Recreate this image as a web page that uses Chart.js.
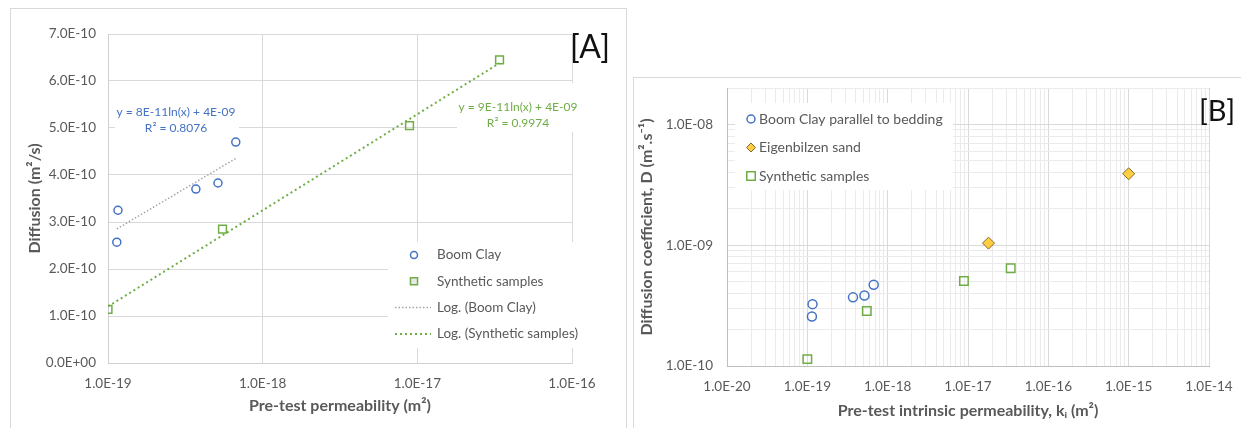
<!DOCTYPE html>
<html>
<head>
<meta charset="utf-8">
<script src="https://cdn.jsdelivr.net/npm/chart.js@4.4.1/dist/chart.umd.min.js"></script>
<style>
    body { margin: 0; background: #fff; width: 1241px; height: 428px; overflow: hidden; position: relative; }
    .frame { position: absolute; border: 1px solid #d9d9d9; box-sizing: border-box; }
    canvas { position: absolute; }
</style>
</head>
<body>
<div class="frame" style="left:10px;top:8px;width:617px;height:440px"></div>
<div class="frame" style="left:633px;top:77px;width:700px;height:400px"></div>
<canvas id="chartA" width="616" height="420" style="left:10px;top:8px"></canvas>
<canvas id="chartB" width="608" height="351" style="left:633px;top:77px"></canvas>
<script>
// Datos
const boomX = [1.16e-19, 1.14e-19, 3.7e-19, 5.14e-19, 6.7e-19];
const boomD = [3.25e-10, 2.57e-10, 3.70e-10, 3.83e-10, 4.70e-10];
const synthX = [1.0e-19, 5.5e-19, 8.9e-18, 3.4e-17];
const synthD = [1.14e-10, 2.85e-10, 5.05e-10, 6.45e-10];
const sandX = [1.8e-17, 1.0e-15];
const sandD = [1.04e-9, 3.9e-9];

// Ejes
const xTicksA = [1e-19, 1e-18, 1e-17, 1e-16];
const yTicksA = [0, 1e-10, 2e-10, 3e-10, 4e-10, 5e-10, 6e-10, 7e-10];
const xDecadesB = [1e-20, 1e-19, 1e-18, 1e-17, 1e-16, 1e-15, 1e-14];
const yDecadesB = [1e-10, 1e-9, 1e-8];
const yMaxB = 2e-8;

// Textos
const eqBoom = ["y = 8E-11ln(x) + 4E-09", "R\u00B2 = 0.8076"];
const eqSynth = ["y = 9E-11ln(x) + 4E-09", "R\u00B2 = 0.9974"];

const BLUE = "#4472C4", GREEN = "#70AD47", GOLD = "#FFCD43", GREY = "#595959";
const FONT = "Lato, 'Open Sans', sans-serif";

function sci(v) {
    if (v === 0) return "0.0E+00";
    const e = Math.floor(Math.log10(v) + 1e-9);
    const m = v / Math.pow(10, e);
    return m.toFixed(1) + "E" + (e < 0 ? "-" : "+") + String(Math.abs(e)).padStart(2, "0");
}
function isDecade(v) {
    const l = Math.log10(v);
    return Math.abs(l - Math.round(l)) < 1e-6;
}
function pts(xs, ys) {
    return xs.map((x, i) => ({ x: x, y: ys[i] }));
}
// Ajuste logarítmico y = a ln(x) + b (mínimos cuadrados)
function logFit(xs, ys) {
    const lx = xs.map(Math.log);
    const mx = lx.reduce((s, v) => s + v, 0) / lx.length;
    const my = ys.reduce((s, v) => s + v, 0) / ys.length;
    let sxy = 0, sxx = 0;
    lx.forEach((v, i) => { sxy += (v - mx) * (ys[i] - my); sxx += (v - mx) * (v - mx); });
    const a = sxy / sxx, b = my - a * mx;
    const x0 = Math.min(...xs), x1 = Math.max(...xs);
    return [{ x: x0, y: a * Math.log(x0) + b }, { x: x1, y: a * Math.log(x1) + b }];
}
function withMinors(decades, max) {
    const out = [];
    decades.forEach(d => {
        for (let k = 1; k <= 9; k++) {
            const v = d * k;
            if (v <= max * 1.0000001) out.push(v);
        }
    });
    return out;
}

function marker(ctx, style, x, y, r) {
    ctx.beginPath();
    if (style === "circle") {
        ctx.arc(x, y, r, 0, Math.PI * 2);
    } else if (style === "rect") {
        const s = r * Math.SQRT1_2;
        ctx.rect(x - s, y - s, 2 * s, 2 * s);
    } else {
        ctx.moveTo(x, y - r); ctx.lineTo(x + r, y); ctx.lineTo(x, y + r); ctx.lineTo(x - r, y); ctx.closePath();
    }
    ctx.fill();
    ctx.stroke();
}

// Recuadros blancos, leyenda interna y etiquetas
const decor = {
    id: "decor",
    beforeDatasetsDraw(chart, args, opts) {
        const ctx = chart.ctx, a = chart.chartArea;
        ctx.save();
        ctx.fillStyle = "#fff";
        (opts.boxes || []).forEach(b => ctx.fillRect(a.left + b.x, a.top + b.y, b.w, b.h));
        ctx.restore();
    },
    afterDatasetsDraw(chart, args, opts) {
        const ctx = chart.ctx, a = chart.chartArea;
        ctx.save();
        const lg = opts.legend;
        if (lg) {
            const bx = a.left + lg.x, by = a.top + lg.y;
            ctx.fillStyle = "#fff";
            ctx.fillRect(bx, by, lg.w, lg.h);
            ctx.font = lg.size + "px " + FONT;
            ctx.textBaseline = "middle";
            chart.data.datasets.forEach((ds, i) => {
                const y = by + lg.first + i * lg.rowH;
                if (ds.showLine) {
                    ctx.strokeStyle = ds.borderColor;
                    ctx.lineWidth = ds.borderWidth;
                    ctx.setLineDash(ds.borderDash);
                    ctx.beginPath();
                    ctx.moveTo(bx + lg.line0, y);
                    ctx.lineTo(bx + lg.line1, y);
                    ctx.stroke();
                    ctx.setLineDash([]);
                } else {
                    ctx.fillStyle = ds.legendFill;
                    ctx.strokeStyle = ds.pointBorderColor;
                    ctx.lineWidth = ds.pointBorderWidth;
                    marker(ctx, ds.pointStyle, bx + lg.mark, y, ds.legendR);
                }
                ctx.fillStyle = GREY;
                ctx.textAlign = "left";
                ctx.fillText(ds.label, bx + lg.text, y);
            });
        }
        (opts.texts || []).forEach(t => {
            ctx.font = (t.weight || "normal") + " " + t.size + "px " + FONT;
            ctx.fillStyle = t.color;
            ctx.textAlign = t.align || "center";
            ctx.textBaseline = "middle";
            t.lines.forEach((s, i) => ctx.fillText(s, a.left + t.x, a.top + t.y + i * t.lh));
        });
        ctx.restore();
    }
};

function tickFont() { return { family: FONT, size: 13.5 }; }
function titleFont() { return { family: FONT, size: 16, weight: "bold" }; }
function noPad(s) { s.paddingTop = 0; s.paddingBottom = 0; s.paddingLeft = 0; s.paddingRight = 0; }

// Gráfico [A]
function initChartA() {
    const ctx = document.getElementById("chartA").getContext("2d");
    new Chart(ctx, {
        type: "scatter",
        data: {
            datasets: [
                {
                    label: "Boom Clay",
                    data: pts(boomX, boomD),
                    pointStyle: "circle", pointRadius: 4, pointHoverRadius: 4,
                    pointBorderColor: BLUE, pointBackgroundColor: "rgba(255,255,255,0)",
                    pointBorderWidth: 1.5, legendFill: "#fff", legendR: 3.5,
                },
                {
                    label: "Synthetic samples",
                    data: pts(synthX, synthD),
                    pointStyle: "rect", pointRadius: 5.5, pointHoverRadius: 5.5,
                    pointBorderColor: GREEN, pointBackgroundColor: "rgba(255,255,255,0)",
                    pointBorderWidth: 1.5, legendFill: "#e8e8e8", legendR: 5,
                },
                {
                    label: "Log. (Boom Clay)",
                    data: logFit(boomX, boomD),
                    showLine: true, pointRadius: 0, borderColor: "#a5a5a5",
                    borderWidth: 1.5, borderDash: [1.5, 2],
                },
                {
                    label: "Log. (Synthetic samples)",
                    data: logFit(synthX, synthD),
                    showLine: true, pointRadius: 0, borderColor: GREEN,
                    borderWidth: 2, borderDash: [2, 3],
                },
            ],
        },
        options: {
            responsive: false,
            animation: false,
            events: [],
            layout: { padding: { left: 0, top: 26, right: 54, bottom: 0 } },
            scales: {
                x: {
                    type: "logarithmic",
                    min: 1e-19, max: 1e-16,
                    afterBuildTicks: s => { s.ticks = xTicksA.map(v => ({ value: v })); },
                    afterFit: s => { s.height = 65; noPad(s); },
                    ticks: { callback: v => sci(v), font: tickFont(), color: GREY, padding: 13, autoSkip: false, maxRotation: 0 },
                    grid: { color: "#d9d9d9", drawTicks: false },
                    border: { color: "#d0d0d0" },
                    title: { display: true, text: "Pre-test permeability (m\u00B2)", font: titleFont(), color: GREY, padding: { bottom: 13 } },
                },
                y: {
                    min: 0, max: 7e-10,
                    afterBuildTicks: s => { s.ticks = yTicksA.map(v => ({ value: v })); },
                    afterFit: s => { s.width = 98; noPad(s); },
                    ticks: { callback: v => sci(v), font: tickFont(), color: GREY, padding: 12, autoSkip: false },
                    grid: { color: "#d9d9d9", drawTicks: false },
                    border: { color: "#d0d0d0" },
                    title: { display: true, text: "Diffusion (m\u00B2/s)", font: titleFont(), color: GREY, padding: { top: 15 } },
                },
            },
            plugins: {
                legend: { display: false },
                tooltip: { enabled: false },
                decor: {
                    boxes: [
                        { x: 7, y: 68, w: 124, h: 34 },
                        { x: 349, y: 49, w: 122, h: 49 },
                    ],
                    legend: { x: 280, y: 208, w: 196, h: 106, first: 13, rowH: 26.3, mark: 26, text: 49, line0: 7, line1: 43, size: 13.5 },
                    texts: [
                        { lines: eqBoom, x: 68, y: 78, lh: 16, size: 12, color: BLUE },
                        { lines: eqSynth, x: 410, y: 73, lh: 16, size: 12, color: GREEN },
                        { lines: ["[A]"], x: 482, y: 14, lh: 0, size: 32, color: "#111", align: "center" },
                    ],
                },
            },
        },
        plugins: [decor],
    });
}

// Gráfico [B]
function initChartB() {
    const ctx = document.getElementById("chartB").getContext("2d");
    const gridColor = c => (c.tick && isDecade(c.tick.value) ? "#d9d9d9" : "#ebebeb");
    new Chart(ctx, {
        type: "scatter",
        data: {
            datasets: [
                {
                    label: "Boom Clay parallel to bedding",
                    data: pts(boomX, boomD),
                    pointStyle: "circle", pointRadius: 4.5, pointHoverRadius: 4.5,
                    pointBorderColor: BLUE, pointBackgroundColor: "rgba(255,255,255,0)",
                    pointBorderWidth: 1.5, legendFill: "#fff", legendR: 4,
                },
                {
                    label: "Eigenbilzen sand",
                    data: pts(sandX, sandD),
                    pointStyle: "rectRot", pointRadius: 6, pointHoverRadius: 6,
                    pointBorderColor: "#7f6a2a", pointBackgroundColor: GOLD,
                    pointBorderWidth: 1, legendFill: GOLD, legendR: 4.5,
                },
                {
                    label: "Synthetic samples",
                    data: pts(synthX, synthD),
                    pointStyle: "rect", pointRadius: 6, pointHoverRadius: 6,
                    pointBorderColor: GREEN, pointBackgroundColor: "rgba(255,255,255,0)",
                    pointBorderWidth: 1.5, legendFill: "#fff", legendR: 6,
                },
            ],
        },
        options: {
            responsive: false,
            animation: false,
            events: [],
            layout: { padding: { left: 0, top: 11, right: 32, bottom: 0 } },
            scales: {
                x: {
                    type: "logarithmic",
                    min: 1e-20, max: 1e-14,
                    afterBuildTicks: s => { s.ticks = withMinors(xDecadesB, 1e-14).map(v => ({ value: v })); },
                    afterFit: s => { s.height = 62; noPad(s); },
                    ticks: { callback: v => (isDecade(v) ? sci(v) : ""), font: tickFont(), color: GREY, padding: 13, autoSkip: false, maxRotation: 0 },
                    grid: { color: gridColor, drawTicks: false },
                    border: { color: "#bfbfbf" },
                    title: { display: true, text: "Pre-test intrinsic permeability, k\u1D62 (m\u00B2)", font: titleFont(), color: GREY, padding: { bottom: 8 } },
                },
                y: {
                    type: "logarithmic",
                    min: 1e-10, max: yMaxB,
                    afterBuildTicks: s => { s.ticks = withMinors(yDecadesB, yMaxB).map(v => ({ value: v })); },
                    afterFit: s => { s.width = 94; noPad(s); },
                    ticks: { callback: v => (isDecade(v) ? sci(v) : ""), font: tickFont(), color: GREY, padding: 14, autoSkip: false },
                    grid: { color: gridColor, drawTicks: false },
                    border: { color: "#bfbfbf" },
                    title: { display: true, text: "Diffusion coefficient, D (m\u00B2.s\u207B\u00B9)", font: titleFont(), color: GREY, padding: { top: 4 } },
                },
            },
            plugins: {
                legend: { display: false },
                tooltip: { enabled: false },
                decor: {
                    legend: { x: 8, y: 15, w: 218, h: 87, first: 16, rowH: 28.5, mark: 16, text: 24, line0: 0, line1: 0, size: 14 },
                    texts: [
                        { lines: ["[B]"], x: 490, y: 24, lh: 0, size: 29, color: "#111", align: "center" },
                    ],
                },
            },
        },
        plugins: [decor],
    });
}

initChartA();
initChartB();
</script>
</body>
</html>
